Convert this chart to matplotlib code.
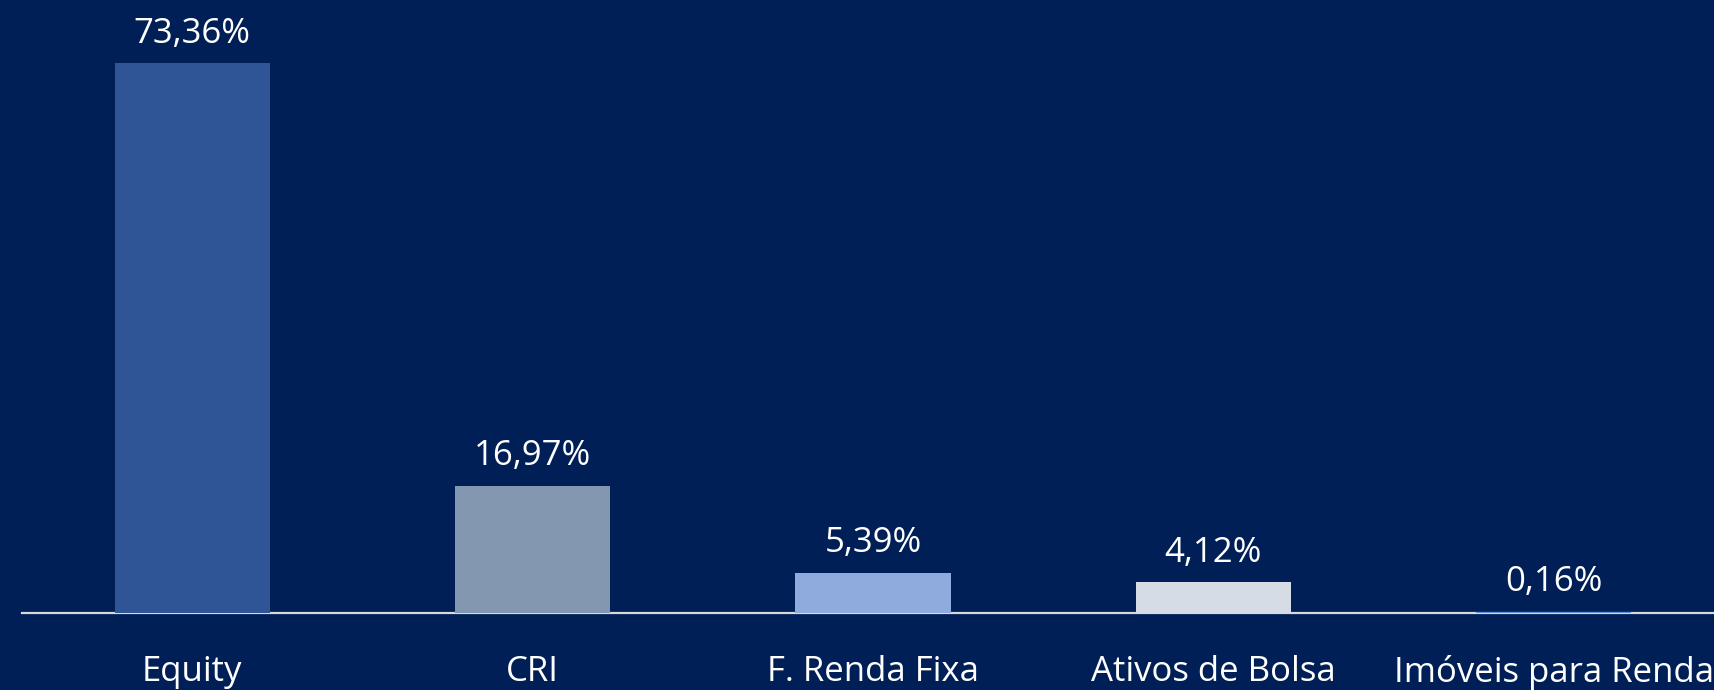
import matplotlib
matplotlib.use("Agg")
import matplotlib.pyplot as plt

categories = ["Equity", "CRI", "F. Renda Fixa", "Ativos de Bolsa", "Imóveis para Renda"]
values = [73.36, 16.97, 5.39, 4.12, 0.16]
labels = ["73,36%", "16,97%", "5,39%", "4,12%", "0,16%"]
colors = ["#2F5597", "#8497B0", "#8FAADC", "#D6DCE5", "#5B8DE0"]

bg = "#001F56"
W, H = 1714, 690
fig = plt.figure(figsize=(W / 100, H / 100), dpi=100, facecolor=bg)
plt.rcParams['font.family'] = ['Open Sans', 'DejaVu Sans']

left = 22 / W
right = 1724 / W
bottom = 77 / H
ax = fig.add_axes([left, bottom, right - left, 1 - bottom])
ax.set_facecolor(bg)

x = range(len(categories))
ax.bar(x, values, width=155 / 340, color=colors, zorder=4)
ax.set_xlim(-0.5, 4.5)
ax.set_ylim(0, 81.8)

for xi, v, lab in zip(x, values, labels):
    ax.annotate(lab, (xi, v), xytext=(0, 9), textcoords="offset points",
                ha="center", va="bottom", color="white", fontsize=25)

for s in ["top", "right", "left"]:
    ax.spines[s].set_visible(False)
ax.spines["bottom"].set_color("#D9D9D9")
ax.spines["bottom"].set_linewidth(1.6)
ax.spines["bottom"].set_zorder(3)
ax.set_yticks([])
ax.set_xticks(list(x))
ax.set_xticklabels(categories, color="white", fontsize=25)
ax.tick_params(axis="x", length=0, pad=30)

fig.savefig("out.png", dpi=100, facecolor=bg)
